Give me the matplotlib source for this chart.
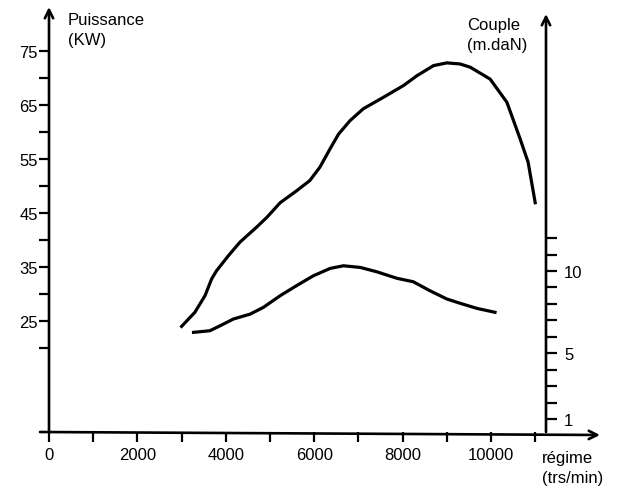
import numpy as np
import matplotlib
matplotlib.use('Agg')
import matplotlib.pyplot as plt

plt.rcParams['font.family'] = ['Liberation Sans', 'DejaVu Sans']

# Puissance (KW) en fonction du régime
regime_p = [3000, 3300, 3530, 3680, 3790, 4060, 4320, 4700, 4930, 5230,
            5600, 5900, 6130, 6360, 6550, 6810, 7110, 7560, 8020, 8320,
            8700, 9000, 9300, 9530, 9980, 10360, 10660, 10840, 11000]
puissance = [24.0, 26.6, 29.7, 32.8, 34.3, 37.1, 39.6, 42.4, 44.2, 46.9,
             49.1, 51.0, 53.5, 56.9, 59.6, 62.1, 64.3, 66.4, 68.6, 70.4,
             72.3, 72.8, 72.6, 72.0, 69.8, 65.5, 58.7, 54.4, 46.9]

# Couple (m.daN) en fonction du régime
regime_c = [3270, 3640, 3870, 4170, 4550, 4850, 5230, 5600, 5980, 6360,
            6660, 7040, 7410, 7870, 8240, 8620, 9000, 9300, 9680, 10090]
couple = [6.27, 6.37, 6.67, 7.08, 7.38, 7.79, 8.50, 9.11, 9.71, 10.16,
          10.32, 10.22, 9.96, 9.56, 9.35, 8.80, 8.30, 8.04, 7.73, 7.49]

x_ticks = list(range(0, 12000, 1000))
x_labels = ['0', '', '2000', '', '4000', '', '6000', '', '8000', '', '10000', '']
p_ticks = list(range(20, 80, 5))
p_labels = ['', '25', '', '35', '', '45', '', '55', '', '65', '', '75']
c_ticks = list(range(1, 13))
c_labels = ['1', '', '', '', '5', '', '', '', '', '10', '', '']

W, H = 623, 489
fig = plt.figure(figsize=(W / 100, H / 100), dpi=100)
x0, x1, ybot, ytop = 49, 546, 433, 8
ax = fig.add_axes([x0 / W, (H - ybot) / H, (x1 - x0) / W, (ybot - ytop) / H])
ax2 = ax.twinx()

ax.set_xlim(0, (x1 - x0) / 44.2 * 1000)
ax.set_ylim(4.44, 83.15)
ax2.set_ylim(0.21, 26.06)

ax.plot(regime_p, puissance, color='black', lw=2.3, solid_joinstyle='round')
ax2.plot(regime_c, couple, color='black', lw=2.3, solid_joinstyle='round')

for a in (ax, ax2):
    for s in a.spines.values():
        s.set_visible(False)

fs = 12
ax.set_xticks(x_ticks)
ax.set_xticklabels(x_labels)
ax.set_yticks(p_ticks)
ax.set_yticklabels(p_labels)
ax2.set_yticks(c_ticks)
ax2.set_yticklabels(c_labels)
ax.tick_params(axis='both', direction='out', length=7, width=1.6,
               labelsize=fs, colors='black', pad=1)
ax.tick_params(axis='x', pad=4)
ax2.tick_params(axis='y', direction='out', length=8, width=1.6,
                labelsize=fs, colors='black', pad=5)

# axes avec flèches
arrow = dict(arrowstyle='->,head_length=0.6,head_width=0.3', lw=1.9,
             color='black', shrinkA=0, shrinkB=0)
ax.annotate('', xy=(x0, H - 8), xytext=(x0, H - ybot), xycoords='figure pixels',
            textcoords='figure pixels', arrowprops=arrow)
ax.annotate('', xy=(x1, H - 15), xytext=(x1, H - ybot), xycoords='figure pixels',
            textcoords='figure pixels', arrowprops=arrow)
ax.annotate('', xy=(600, H - 436), xytext=(40, H - ybot), xycoords='figure pixels',
            textcoords='figure pixels', arrowprops=arrow)

# titres des axes (deux lignes chacun)
titres = [(68, 25, 'Puissance', '(KW)'),
          (467, 30, 'Couple', '(m.daN)'),
          (542, 463, 'régime', '(trs/min)')]
for tx, ty, l1, l2 in titres:
    fig.text(tx / W, 1 - ty / H, l1, fontsize=fs, va='baseline', ha='left')
    fig.text(tx / W, 1 - (ty + 20) / H, l2, fontsize=fs, va='baseline', ha='left')

fig.savefig('out.png', dpi=100)
